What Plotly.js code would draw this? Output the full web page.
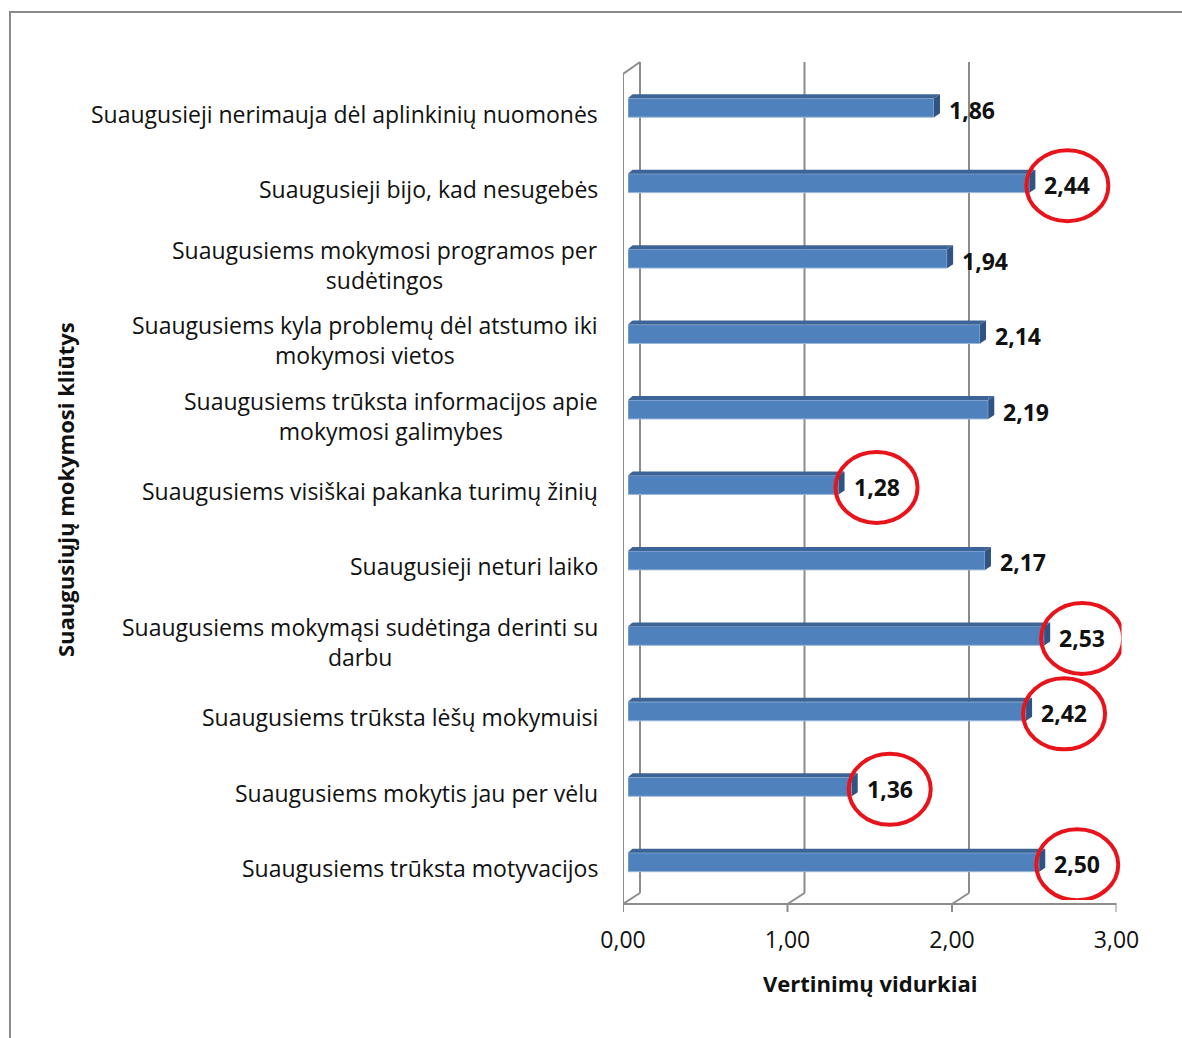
<!DOCTYPE html>
<html>
<head>
<meta charset="utf-8">
<script src="https://cdn.plot.ly/plotly-3.0.1.min.js"></script>
<style>
  html, body { margin: 0; padding: 0; background: #fff; overflow: hidden; }
  #plot { position: absolute; left: 0; top: 0; width: 1182px; height: 1038px; }
  #frame {
    position: absolute; left: 9px; top: 11px; width: 1300px; height: 1200px;
    border-top: 2px solid #8a8a8a; border-left: 2px solid #8a8a8a;
    pointer-events: none;
  }
</style>
</head>
<body>
<div id="plot"></div>
<div id="frame"></div>
<script>
// Survey categories, top to bottom as in the chart
const categories = [
    'Suaugusieji nerimauja dėl aplinkinių nuomonės',
    'Suaugusieji bijo, kad nesugebės',
    'Suaugusiems mokymosi programos per<br>sudėtingos',
    'Suaugusiems kyla problemų dėl atstumo iki<br>mokymosi vietos',
    'Suaugusiems trūksta informacijos apie<br>mokymosi galimybes',
    'Suaugusiems visiškai pakanka turimų žinių',
    'Suaugusieji neturi laiko',
    'Suaugusiems mokymąsi sudėtinga derinti su<br>darbu',
    'Suaugusiems trūksta lėšų mokymuisi',
    'Suaugusiems mokytis jau per vėlu',
    'Suaugusiems trūksta motyvacijos'
];

// Average ratings
const values = [1.86, 2.44, 1.94, 2.14, 2.19, 1.28, 2.17, 2.53, 2.42, 1.36, 2.50];

// Which values are circled in red
const highlighted = [false, true, false, false, false, true, false, true, true, true, true];

const tickValues = [0, 1, 2, 3];
const tickLabels = ['0,00', '1,00', '2,00', '3,00'];

const xTitle = 'Vertinimų vidurkiai';
const yTitle = 'Suaugusiųjų mokymosi kliūtys';

// Styling
const FONT = 'Open Sans, Liberation Sans, sans-serif';
const TEXT = '#111111';
const WALL = '#8c8c8c';
const FRONT = '#4f81bd';
const TOP = '#3c6496';
const SIDE = '#2f5383';
const RED = '#e8141c';
const DEPTH_X = 17;   // back wall offset in px
const DEPTH_Y = 11;
const HALF = 9.5;     // half bar thickness in px

const fmt = v => v.toFixed(2).replace('.', ',');

const barTrace = {
    type: 'bar',
    orientation: 'h',
    x: values,
    y: categories,
    xaxis: 'x2',
    yaxis: 'y',
    width: 0.25,
    marker: { color: FRONT, line: { color: '#9ab6da', width: 1 } },
    hoverinfo: 'skip'
};

const shapes = [];

// back wall gridlines + floor diagonals + front ticks
tickValues.forEach(v => {
    shapes.push({
        type: 'line', xref: 'x', xsizemode: 'pixel', xanchor: v, x0: DEPTH_X, x1: DEPTH_X,
        yref: 'paper', ysizemode: 'pixel', yanchor: 0, y0: 7, y1: 838,
        line: { color: WALL, width: 2 }, layer: 'below'
    });
    shapes.push({
        type: 'line', xref: 'x', xsizemode: 'pixel', xanchor: v, x0: 0, x1: DEPTH_X,
        yref: 'paper', ysizemode: 'pixel', yanchor: 0, y0: -4, y1: -4 + DEPTH_Y,
        line: { color: WALL, width: 2 }, layer: 'below'
    });
    shapes.push({
        type: 'line', xref: 'x', xsizemode: 'pixel', xanchor: v, x0: 0, x1: 0,
        yref: 'paper', ysizemode: 'pixel', yanchor: 0, y0: -4, y1: -12,
        line: { color: WALL, width: 2 }, layer: 'below'
    });
});
// floor front edge
shapes.push({
    type: 'line', xref: 'x', x0: 0, x1: 3,
    yref: 'paper', ysizemode: 'pixel', yanchor: 0, y0: -4, y1: -4,
    line: { color: WALL, width: 2 }, layer: 'below'
});
// left wall front edge and top
shapes.push({
    type: 'line', xref: 'x', xsizemode: 'pixel', xanchor: 0, x0: 0, x1: 0,
    yref: 'paper', ysizemode: 'pixel', yanchor: 0, y0: -4, y1: 826,
    line: { color: WALL, width: 2 }, layer: 'below'
});
shapes.push({
    type: 'line', xref: 'x', xsizemode: 'pixel', xanchor: 0, x0: 0, x1: DEPTH_X,
    yref: 'paper', ysizemode: 'pixel', yanchor: 0, y0: 826, y1: 838,
    line: { color: WALL, width: 2 }, layer: 'below'
});

// 3D faces of the bars
categories.forEach((c, i) => {
    const v = values[i];
    shapes.push({
        type: 'rect', xref: 'x2', x0: 0, x1: v,
        yref: 'y', ysizemode: 'pixel', yanchor: c, y0: HALF, y1: HALF + 4,
        fillcolor: TOP, line: { width: 0 }, layer: 'above'
    });
    shapes.push({
        type: 'path', xref: 'x2', xsizemode: 'pixel', xanchor: 0,
        yref: 'y', ysizemode: 'pixel', yanchor: c,
        path: `M0,${HALF} L0,${HALF + 4.5} L5,${HALF + 4.5} Z`,
        fillcolor: '#ffffff', line: { width: 0 }, layer: 'above'
    });
    shapes.push({
        type: 'path', xref: 'x2', xsizemode: 'pixel', xanchor: v,
        yref: 'y', ysizemode: 'pixel', yanchor: c,
        path: `M0,${HALF} L6,${HALF + 4} L0,${HALF + 4} Z`,
        fillcolor: TOP, line: { width: 0 }, layer: 'above'
    });
    shapes.push({
        type: 'path', xref: 'x2', xsizemode: 'pixel', xanchor: v,
        yref: 'y', ysizemode: 'pixel', yanchor: c,
        path: `M0,${-HALF} L0,${HALF} L6,${HALF + 4} L6,${-HALF + 4} Z`,
        fillcolor: SIDE, line: { width: 0 }, layer: 'above'
    });
    if (highlighted[i]) {
        shapes.push({
            type: 'circle', xref: 'x2', xsizemode: 'pixel', xanchor: v, x0: -3, x1: 79,
            yref: 'y', ysizemode: 'pixel', yanchor: c, y0: -38, y1: 33,
            line: { color: RED, width: 4 }, layer: 'above'
        });
    }
});

const annotations = [];
// category labels
categories.forEach(c => {
    annotations.push({
        xref: 'paper', x: 0, xshift: 0, xanchor: 'right',
        yref: 'y', y: c, yshift: -6, yanchor: 'middle', align: 'center',
        text: c, showarrow: false,
        font: { family: FONT, size: 23, color: TEXT }
    });
});
// value labels
categories.forEach((c, i) => {
    annotations.push({
        xref: 'x2', x: values[i], xshift: 13, xanchor: 'left',
        yref: 'y', y: c, yshift: -2, yanchor: 'middle',
        text: '<b>' + fmt(values[i]) + '</b>', showarrow: false,
        font: { family: FONT, size: 23, color: TEXT }
    });
});
// axis titles
annotations.push({
    xref: 'paper', x: 0, xshift: -535, xanchor: 'center',
    yref: 'paper', y: 0.5, yshift: -5, yanchor: 'middle',
    textangle: -90, text: '<b>' + yTitle + '</b>', showarrow: false,
    font: { family: FONT, size: 22, color: TEXT }
});
annotations.push({
    xref: 'x', x: 1.5, xanchor: 'center',
    yref: 'paper', y: 0, yshift: -83, yanchor: 'middle',
    text: '<b>' + xTitle + '</b>', showarrow: false,
    font: { family: FONT, size: 22, color: TEXT }
});

const layout = {
    width: 1182,
    height: 1038,
    margin: { l: 600, r: 40, t: 70, b: 138 },
    paper_bgcolor: '#ffffff',
    plot_bgcolor: 'rgba(0,0,0,0)',
    showlegend: false,
    font: { family: FONT, color: TEXT },
    xaxis: {
        domain: [23 / 542, 516.5 / 542],
        range: [0, 3],
        anchor: 'y',
        tickvals: tickValues,
        ticktext: tickLabels,
        ticks: '',
        ticklabelstandoff: 24,
        tickfont: { family: FONT, size: 23, color: TEXT },
        showgrid: false,
        zeroline: false,
        showline: false,
        fixedrange: true
    },
    xaxis2: {
        domain: [28 / 542, 521.5 / 542],
        range: [0, 3],
        anchor: 'y',
        showticklabels: false,
        ticks: '',
        showgrid: false,
        zeroline: false,
        showline: false,
        fixedrange: true
    },
    yaxis: {
        type: 'category',
        categoryorder: 'array',
        categoryarray: categories,
        range: [10.5, -0.5],
        anchor: 'x',
        showticklabels: false,
        ticks: '',
        showgrid: false,
        zeroline: false,
        showline: false,
        fixedrange: true
    },
    shapes: shapes,
    annotations: annotations
};

Plotly.newPlot('plot', [barTrace], layout, { staticPlot: true });
</script>
</body>
</html>
